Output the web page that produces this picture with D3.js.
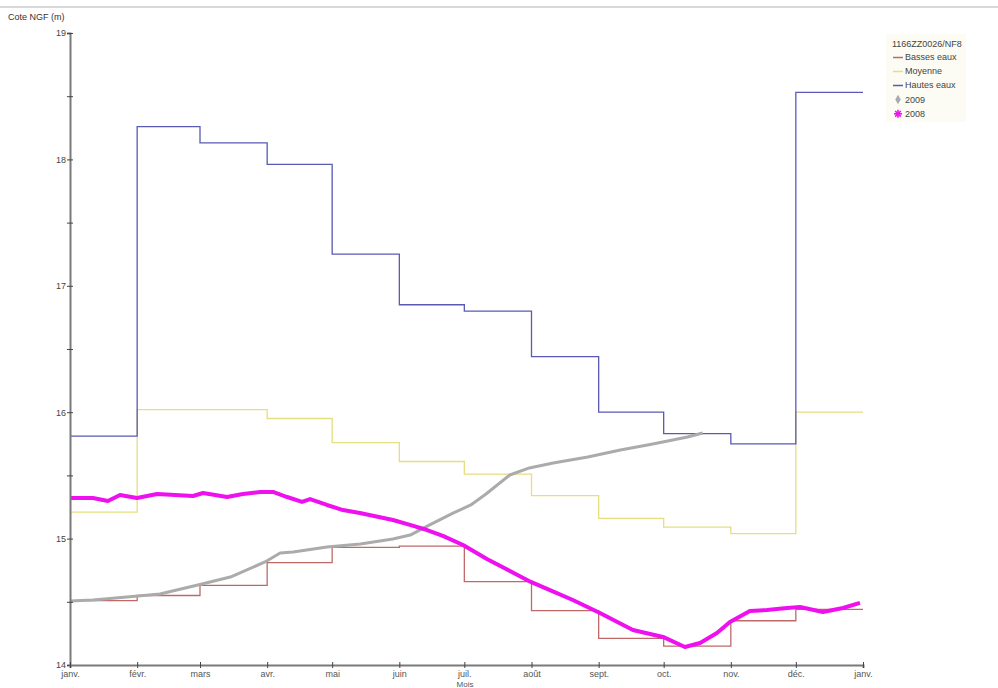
<!DOCTYPE html>
<html><head><meta charset="utf-8">
<script src="https://cdn.jsdelivr.net/npm/d3@7"></script>
<style>body{margin:0;background:#fff}svg{display:block;font-family:"Liberation Sans",Arial,sans-serif}</style>
</head><body><svg id="c" width="998" height="688"></svg>
<script>
const monthLabels = ["janv.","févr.","mars","avr.","mai","juin","juil.","août","sept.","oct.","nov.","déc.","janv."];
const yTicks = [14,15,16,17,18,19];
const basses = [14.51,14.55,14.63,14.81,14.93,14.94,14.66,14.43,14.21,14.15,14.35,14.44];
const moyenne = [15.21,16.02,16.02,15.95,15.76,15.61,15.51,15.34,15.16,15.09,15.04,16.00];
const hautes = [15.81,18.26,18.13,17.96,17.25,16.85,16.80,16.44,16.00,15.83,15.75,18.53];
// day-of-year, value
const days2009 = [0,10.6,31.4,41.5,59,74,90,97,103,118.6,134,149,157,166,177,185,192,203,212,223,239,254,269,285,292];
const vals2009 = [14.506,14.514,14.546,14.562,14.633,14.696,14.815,14.886,14.894,14.934,14.957,14.997,15.028,15.108,15.203,15.266,15.353,15.503,15.559,15.598,15.646,15.701,15.748,15.804,15.835];
const days2008 = [0,10.6,17.5,23.1,30.9,40.2,56.8,61.4,72.5,79.8,87.7,93.7,100.2,107.1,110.8,118.6,126,133.8,149.1,156.9,164.8,172.1,181.4,192.4,212.7,221.5,232.1,244.6,259.8,273.7,283.8,290.8,298.6,304.6,313.8,321.7,330.9,336.9,347.5,356.8,364.6];
const vals2008 = [15.321,15.321,15.297,15.345,15.321,15.353,15.337,15.361,15.329,15.353,15.369,15.369,15.329,15.290,15.313,15.266,15.226,15.203,15.147,15.108,15.068,15.021,14.949,14.839,14.657,14.593,14.514,14.411,14.277,14.222,14.142,14.174,14.253,14.340,14.427,14.435,14.451,14.459,14.419,14.451,14.491];
const legendTitle = "1166ZZ0026/NF8";
const legendItems = ["Basses eaux","Moyenne","Hautes eaux","2009","2008"];

const svg = d3.select("#c");
const start = new Date(2008,0,1), end = new Date(2009,0,1);
const x = d3.scaleTime().domain([start,end]).range([70,863]);
const y = d3.scaleLinear().domain([14,19]).range([665,33]);
const months = d3.timeMonth.range(start, d3.timeDay.offset(end,1));

// top frame line
svg.append("line").attr("x1",0).attr("x2",998).attr("y1",7).attr("y2",7).attr("stroke","#d8d8d8").attr("stroke-width",2);

const colors = {b:"#c06868", m:"#e6df7e", h:"#5a5ab4", g:"#ababab", p:"#ee10ee"};

function stepData(vals){ const d = vals.map((v,i)=>({t:months[i],v})); d.push({t:months[12],v:vals[vals.length-1]}); return d; }
const stepLine = d3.line().x(d=>x(d.t)).y(d=>y(d.v)).curve(d3.curveStepAfter);
[[moyenne,colors.m],[basses,colors.b],[hautes,colors.h]].forEach(([v,c])=>{
  svg.append("path").attr("d",stepLine(stepData(v))).attr("fill","none").attr("stroke",c).attr("stroke-width",1.3);
});
const curve = d3.line().x(d=>x(d.t)).y(d=>y(d.v));
const d09 = days2009.map((d,i)=>({t:d3.timeHour.offset(start,Math.round(d*24)),v:vals2009[i]}));
const d08 = days2008.map((d,i)=>({t:d3.timeHour.offset(start,Math.round(d*24)),v:vals2008[i]}));
svg.append("path").attr("d",curve(d09)).attr("fill","none").attr("stroke",colors.g).attr("stroke-width",3).attr("stroke-linejoin","round");
svg.append("path").attr("d",curve(d08)).attr("fill","none").attr("stroke",colors.p).attr("stroke-width",4).attr("stroke-linejoin","round");

// axes
const axisColor = "#7a7a7a";
const yAxis = d3.axisLeft(y).tickValues(d3.range(14,19.01,0.5)).tickSize(3).tickFormat(d=>yTicks.includes(d)?d:"");
const gy = svg.append("g").attr("transform","translate(70,0)").call(yAxis);
gy.select(".domain").attr("stroke",axisColor).attr("stroke-width",2);
gy.selectAll(".tick line").attr("stroke","#444").attr("x2",-3).attr("x1",3);
gy.selectAll(".tick text").attr("font-size",9).attr("fill","#444").attr("x",-4).attr("font-family","Liberation Sans, Arial, sans-serif");

const xAxis = d3.axisBottom(x).tickValues(months).tickSize(3).tickFormat((d,i)=>monthLabels[i]);
const gx = svg.append("g").attr("transform","translate(0,665)").call(xAxis);
gx.select(".domain").attr("stroke",axisColor).attr("stroke-width",2);
gx.selectAll(".tick line").attr("stroke","#444").attr("y1",-3).attr("y2",3);
gx.selectAll(".tick text").attr("font-size",9).attr("fill","#555").attr("y",6).attr("font-family","Liberation Sans, Arial, sans-serif");

svg.append("text").attr("x",8).attr("y",20).attr("font-size",9).attr("fill","#333").text("Cote NGF (m)");
svg.append("text").attr("x",465).attr("y",687).attr("font-size",8).attr("fill","#555").attr("text-anchor","middle").text("Mois");

// legend
const lg = svg.append("g").attr("transform","translate(892,0)");
lg.append("rect").attr("x",-6).attr("y",34).attr("width",80).attr("height",88).attr("fill","#fcfcf4");
lg.append("text").attr("x",0).attr("y",47).attr("font-size",9).attr("fill","#444").text(legendTitle);
const lc = [colors.b,colors.m,colors.h,colors.g,colors.p];
legendItems.forEach((t,i)=>{
  const yy = 57 + i*14.2;
  if(i<3){
    lg.append("line").attr("x1",1).attr("x2",11).attr("y1",Math.round(yy)+0.5).attr("y2",Math.round(yy)+0.5).attr("stroke",lc[i]).attr("stroke-width",1.5);
  } else if(i===3){
    lg.append("path").attr("d",d3.symbol(d3.symbolDiamond,26)()).attr("transform",`translate(6,${yy})`).attr("fill",lc[i]);
  } else {
    const st = lg.append("g").attr("transform",`translate(6,${yy})`).attr("stroke",lc[i]).attr("stroke-width",1.6);
    [0,45,90,135].forEach(a=>st.append("line").attr("x1",-4).attr("x2",4).attr("y1",0).attr("y2",0).attr("transform",`rotate(${a})`));
  }
  lg.append("text").attr("x",13).attr("y",yy+3).attr("font-size",9).attr("fill","#444").text(t);
});
</script></body></html>
